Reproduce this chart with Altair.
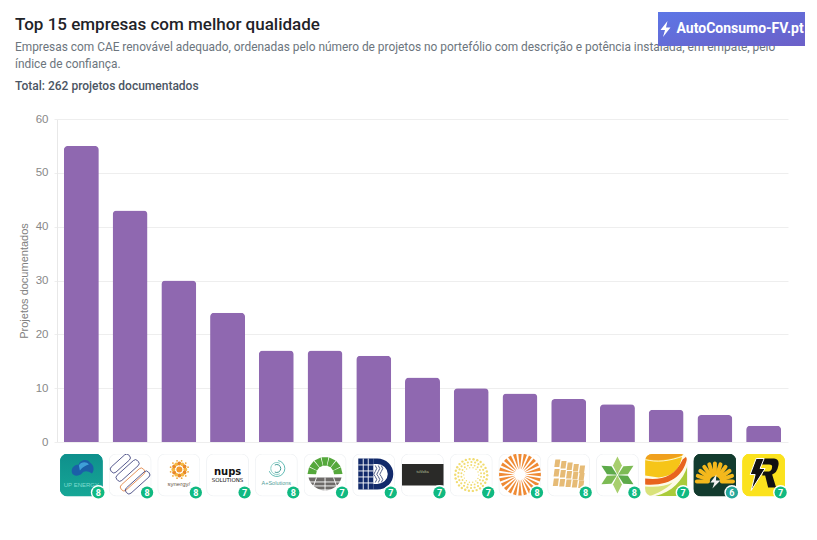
import math
import urllib.parse
import altair as alt
import pandas as pd

companies = ["UP Energy", "Linhas", "Synenergy", "NUPS Solutions", "A+Solutions", "Solar Verde",
             "DP Solar", "Nordex", "Sol Dourado", "Raios", "Painel", "Estrela Verde", "Onda", "Sunbolt", "Rvolt"]
projects = [55, 43, 30, 24, 17, 17, 16, 12, 10, 9, 8, 7, 6, 5, 3]
scores = [8, 8, 8, 7, 8, 7, 7, 7, 7, 8, 8, 8, 7, 6, 7]
badge_colors = ["#10b981"] * 13 + ["#26a69a", "#10b981"]
y_ticks = [0, 10, 20, 30, 40, 50, 60]

TITLE = "Top 15 empresas com melhor qualidade"
SUB1 = "Empresas com CAE renovável adequado, ordenadas pelo número de projetos no portefólio com descrição e potência instalada, em empate, pelo"
SUB2 = "índice de confiança."
TOTAL = "Total: 262 projetos documentados"
BRAND = "AutoConsumo-FV.pt"
UI_FONT = "Roboto"
AXIS_FONT = "Liberation Sans"


def tile(inner, bg="#ffffff", border="#f1f3f5"):
    return (f'<svg xmlns="http://www.w3.org/2000/svg" width="86" height="86" viewBox="0 0 43 43">'
            f'<defs><clipPath id="c"><rect x="0.5" y="0.5" width="42" height="42" rx="7"/></clipPath></defs>'
            f'<rect x="0.5" y="0.5" width="42" height="42" rx="7" fill="{bg}" stroke="{border}"/>'
            f'<g clip-path="url(#c)">{inner}</g></svg>')


def polar(cx, cy, r, deg):
    a = math.radians(deg)
    return cx + r * math.cos(a), cy + r * math.sin(a)


def logo_up():
    return ('<defs><linearGradient id="g" x1="0" y1="0" x2="0" y2="1"><stop offset="0" stop-color="#0e8f8c"/>'
            '<stop offset="1" stop-color="#16a796"/></linearGradient></defs>'
            '<rect width="43" height="43" fill="url(#g)"/>'
            '<path d="M12 19 C11 14 15 11 19 11 C20 6 28 5 30 9 C34 11 35 17 32 20 C28 17 24 17 22 20 C19 23 13 23 12 19Z" fill="#1b5fa8"/>'
            '<path d="M19 12 C21 8 27 8 29 11 C26 12 23 13 20 17Z" fill="#3f9fd8"/>')


def logo_lines():
    out = ""
    for cx, cy, h, c in [(11.7, 10, 24, "#3b3f7c"), (19, 17, 28, "#3b3f7c"), (24, 26, 30, "#e0803f"), (29, 29, 30, "#3b3f7c")]:
        out += (f'<rect x="{cx-3.5}" y="{cy-h/2}" width="7" height="{h}" rx="3" fill="none" stroke="{c}" stroke-width="0.8" '
                f'transform="rotate(48 {cx} {cy})"/>')
    return out


def logo_syn():
    out = '<circle cx="22" cy="16" r="3" fill="#f29a2e"/>'
    for k in range(12):
        x, y = polar(22, 16, 6, k * 30)
        out += f'<circle cx="{x:.1f}" cy="{y:.1f}" r="1.9" fill="{"#e8872a" if k % 2 else "#f5b942"}"/>'
    for k in range(12):
        x, y = polar(22, 16, 9, k * 30 + 15)
        out += f'<circle cx="{x:.1f}" cy="{y:.1f}" r="0.9" fill="#f0a93a"/>'
    return out


def logo_aplus():
    out = ""
    for r, s, e, c in [(8, -80, 160, "#4fb3ac"), (6, 60, 300, "#7cc8bf"), (4, -120, 120, "#2f8f8a")]:
        x1, y1 = polar(22, 15, r, s)
        x2, y2 = polar(22, 15, r, e)
        out += f'<path d="M{x1:.1f} {y1:.1f} A{r} {r} 0 1 1 {x2:.1f} {y2:.1f}" fill="none" stroke="{c}" stroke-width="0.9"/>'
    return out


def logo_green():
    out = ""
    for k in range(7):
        a1, a2 = 180 + k * 25.7 + 1.5, 180 + (k + 1) * 25.7 - 1.5
        p = [polar(21.5, 21, 17.5, a1), polar(21.5, 21, 17.5, a2), polar(21.5, 21, 9, a2), polar(21.5, 21, 9, a1)]
        out += '<polygon fill="#55a83c" points="' + " ".join(f"{x:.1f},{y:.1f}" for x, y in p) + '"/>'
    out += '<path d="M5 24 H38 A17 17 0 0 1 5 24Z" fill="#6d6a68"/>'
    for y in (28, 32, 36):
        out += f'<rect x="3" y="{y}" width="37" height="0.9" fill="#ffffff"/>'
    out += '<path d="M21.5 24 V40 M13 24 L8 38 M30 24 L35 38" stroke="#fff" stroke-width="0.9"/>'
    return out


def logo_dp():
    out = '<path d="M21 5 H25 A16 15.5 0 0 1 25 36 H21 V30.5 H25 A10.5 10 0 0 0 25 10.5 H21Z" fill="#122a6b"/>'
    out += '<rect x="6" y="5" width="15" height="31" fill="#122a6b"/>'
    for x in (10.5, 15.5):
        out += f'<rect x="{x}" y="5" width="0.9" height="31" fill="#fff"/>'
    for y in (11, 17, 23, 29):
        out += f'<rect x="6" y="{y}" width="15" height="0.9" fill="#fff"/>'
    for x in (23, 26, 29):
        out += f'<path d="M{x} 12 q3 3 0 6 q-3 3 0 5 q3 3 0 6" fill="none" stroke="#3c4a7a" stroke-width="0.9"/>'
    return out


def logo_dark():
    return '<rect x="1" y="10.5" width="43" height="21.5" fill="#2a2a28"/>'


def logo_gold():
    out = ""
    for r, n, s in [(16, 26, 1.2), (13, 22, 1.1), (10, 18, 0.95), (7.5, 14, 0.7)]:
        for k in range(n):
            x, y = polar(21.5, 21.5, r, k * 360 / n + r * 7)
            out += f'<circle cx="{x:.1f}" cy="{y:.1f}" r="{s}" fill="#f1dc72"/>'
    return out


def logo_rays():
    out = ""
    for k in range(24):
        a = k * 360 / 24
        p = [polar(21.5, 21, 21, a - 4.6), polar(21.5, 21, 21, a + 4.6), polar(21.5, 21, 5.5, a + 1.2), polar(21.5, 21, 5.5, a - 1.2)]
        out += '<polygon fill="#ef8a34" points="' + " ".join(f"{x:.1f},{y:.1f}" for x, y in p) + '"/>'
    return out


def logo_panel():
    out = ""
    for r in range(3):
        for c in range(5):
            x = 6 + c * 6.4 + (r * 0.6)
            y = 6 + r * 9.5 + c * 1.5 - (r * c * 0.5)
            out += f'<rect x="{x:.1f}" y="{y:.1f}" width="5" height="7.5" fill="#e6bb76" transform="skewX(-8) translate(3 0)"/>'
    return out


def logo_star():
    out = ""
    for k, col in enumerate(["#a8cf6e", "#7dbb55", "#5daa4a", "#a8cf6e", "#7dbb55", "#5daa4a"]):
        out += (f'<path d="M21.5 21 L17 12 L21.5 3 L26 12Z" fill="{col}" transform="rotate({k*60} 21.5 21.5)"/>')
    return out


def logo_wave():
    return ('<rect width="43" height="43" fill="#fdfbe8"/>'
            '<path d="M0 0 H38 C36 10 34 22 14 24 L0 22Z" fill="#f6c518"/>'
            '<path d="M0 5 C12 8 24 7 40 1 L38 0 H0Z" fill="#f0a01e"/>'
            '<path d="M0 6 C12 9 24 8 40 2" fill="none" stroke="#fff" stroke-width="0.8"/>'
            '<path d="M0 25 C16 27 30 24 38 6 L43 2 C40 22 26 33 0 31Z" fill="#e8641e"/>'
            '<path d="M8 43 C26 40 38 28 43 12 V43Z" fill="#a9cb3a"/>'
            '<path d="M0 33 C12 34 20 33 28 29 C20 37 12 40 4 43 H0Z" fill="#d9e27a"/>')


def logo_sun():
    out = '<rect width="43" height="43" fill="#123b2e"/>'
    for k in range(11):
        a = 180 + k * 18
        x1, y1 = polar(21.5, 28, 7, a)
        x2, y2 = polar(21.5, 28, 18, a)
        out += f'<line x1="{x1:.1f}" y1="{y1:.1f}" x2="{x2:.1f}" y2="{y2:.1f}" stroke="#f4b81c" stroke-width="4" stroke-linecap="round"/>'
    out += '<path d="M23 21 L17 29 H21 L19 35 L27 27 H22.5Z" fill="#f2f2f2"/>'
    return out


def logo_r():
    return ('<rect width="43" height="43" fill="#fbe21d"/>'
            '<path d="M15 5 H32 Q38 6 36 13 Q35 19 30 21 L34 34 H26 L23 22 H20 L21 18 H27 Q30 17 30 13 Q30 11 27 11 H17Z" fill="#111"/>'
            '<path d="M14 5 L22 5 L18 15 H23 L9 37 L13 21 H8Z" fill="#111" stroke="#fff" stroke-width="1"/>')


logos = [
    tile(logo_up(), bg="#109a90", border="#109a90"),
    tile(logo_lines()),
    tile(logo_syn()),
    tile(""),
    tile(logo_aplus()),
    tile(logo_green()),
    tile(logo_dp()),
    tile(logo_dark()),
    tile(logo_gold()),
    tile(logo_rays()),
    tile(logo_panel()),
    tile(logo_star()),
    tile(logo_wave()),
    tile(logo_sun(), bg="#123b2e", border="#123b2e"),
    tile(logo_r(), bg="#fbe21d", border="#fbe21d"),
]
logo_urls = ["data:image/svg+xml," + urllib.parse.quote(s) for s in logos]
BOLT_URL = "data:image/svg+xml," + urllib.parse.quote(
    '<svg xmlns="http://www.w3.org/2000/svg" width="24" height="32" viewBox="0 0 12 16">'
    '<path d="M8 0 L1 9 H5.5 L3.5 16 L11 6.5 H6.5Z" fill="#ffffff"/></svg>')

df = pd.DataFrame({"empresa": companies, "projetos": projects, "score": scores,
                   "badge": badge_colors, "logo": logo_urls})

x_enc = alt.X("empresa:N", sort=companies, axis=None,
              scale=alt.Scale(paddingInner=0.282, paddingOuter=0.141))
PLOT_W, PLOT_H = 731, 323
TILE_Y, BADGE_Y = 356, 373.5


def note(text, x, y, size, color, weight="normal", font=UI_FONT, align="left"):
    return alt.Chart(alt.Data(values=[{"t": text}])).mark_text(
        align=align, baseline="middle", fontSize=size, fontWeight=weight, font=font, color=color
    ).encode(text="t:N", x=alt.value(x), y=alt.value(y))


base = alt.Chart(alt.Data(values=df.to_dict("records")))

bars = base.mark_bar(color="#8f68b0", cornerRadiusTopLeft=4, cornerRadiusTopRight=4).encode(
    x=x_enc,
    y=alt.Y("projetos:Q", scale=alt.Scale(domain=[0, 60], nice=False),
            axis=alt.Axis(values=y_ticks, title="Projetos documentados", titleFont=AXIS_FONT, titleFontSize=11,
                          titleFontWeight="normal", titleColor="#808080", titlePadding=6,
                          labelFont=AXIS_FONT, labelFontSize=11.5, labelColor="#888888", labelPadding=6,
                          gridColor="#eeeeee", domainColor="#e8e8e8", tickColor="#eeeeee", tickSize=3)),
)

logo_images = base.mark_image(width=43, height=43, align="center", baseline="middle").encode(
    x=x_enc, y=alt.value(TILE_Y), url="logo:N"
)

badge_ring = base.mark_circle(size=230, color="#ffffff", opacity=1, xOffset=17).encode(
    x=x_enc, y=alt.value(BADGE_Y)
)
badge_dot = base.mark_circle(size=150, opacity=1, xOffset=17).encode(
    x=x_enc, y=alt.value(BADGE_Y), color=alt.Color("badge:N", scale=None)
)
badge_txt = base.mark_text(fontSize=9, fontWeight="bold", color="#ffffff", font=UI_FONT, dx=17, baseline="middle").encode(
    x=x_enc, y=alt.value(BADGE_Y + 0.3), text="score:Q"
)

# Wordmarks inside the logo tiles, kept as real text.
logo_label_rows = [
    ("UP Energy", "UP ENERGY", 6, "#7fdcd0", 9.5, "normal", AXIS_FONT, 0),
    ("Synenergy", "synergy/", 6, "#6b5a4a", 8.5, "normal", AXIS_FONT, 0),
    ("NUPS Solutions", "nups", 10, "#111111", -3.5, "bold", "DejaVu Sans", 0),
    ("NUPS Solutions", "SOLUTIONS", 5.5, "#111111", 4.5, "normal", "DejaVu Sans", 0),
    ("A+Solutions", "A+Solutions", 5.5, "#4f9d97", 7.5, "normal", AXIS_FONT, 0),
    ("Nordex", "tuVolta", 4, "#b9c49a", -3.5, "normal", AXIS_FONT, 0),
]
label_layers = [
    alt.Chart(alt.Data(values=[{"empresa": name, "t": txt}])).mark_text(
        fontSize=sz, color=col, font=fnt, baseline="middle", fontWeight=wt, dx=dx
    ).encode(x=x_enc, y=alt.value(TILE_Y + dy), text="t:N")
    for name, txt, sz, col, dy, wt, fnt, dx in logo_label_rows
]

brand_rect = alt.Chart(alt.Data(values=[{"a": 1}])).mark_rect(
    color=alt.Gradient(gradient="linear", x1=0, y1=0, x2=1, y2=1,
                       stops=[alt.GradientStop(color="#5c76e6", offset=0),
                              alt.GradientStop(color="#6c60c8", offset=1)])
).encode(x=alt.value(601), x2=alt.value(748), y=alt.value(-107), y2=alt.value(-73))

bolt = alt.Chart(alt.Data(values=[{"u": BOLT_URL}])).mark_image(
    width=12, height=16, align="center", baseline="middle"
).encode(x=alt.value(608.5), y=alt.value(-90), url="u:N")

chart = alt.layer(
    bars,
    logo_images,
    *label_layers,
    badge_ring,
    badge_dot,
    badge_txt,
    note(TITLE, -42, -94, 17, "#1f2328", weight=500),
    note(SUB1, -42, -72.5, 11.9, "#6c757d"),
    note(SUB2, -42, -55, 11.9, "#6c757d"),
    note(TOTAL, -42, -33, 12, "#4b5563", weight=500),
    brand_rect,
    bolt,
    note(BRAND, 619.5, -90, 14, "#ffffff", weight=700),
).properties(
    width=PLOT_W,
    height=PLOT_H,
    padding={"left": 49, "top": 111, "right": 21, "bottom": 91},
    autosize=alt.AutoSizeParams(type="none"),
    background="#ffffff",
).configure_view(stroke=None)

chart.save("out.html", embed_options={"renderer": "svg", "actions": False})
